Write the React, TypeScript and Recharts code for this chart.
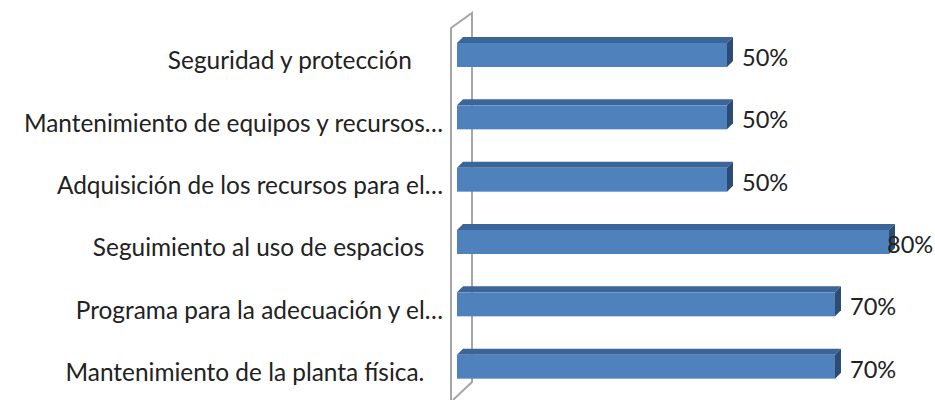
import React from "react";
import { BarChart, Bar, XAxis, YAxis, LabelList, Customized } from "recharts";

const NB = "\u00A0";

const categories = [
  "Seguridad y protección" + NB.repeat(5),
  "Mantenimiento de equipos y recursos…",
  "Adquisición de los recursos para el…",
  "Seguimiento al uso de espacios" + NB.repeat(3),
  "Programa para la adecuación y el…",
  "Mantenimiento de la planta física." + NB.repeat(3),
];
const values = [50, 50, 50, 80, 70, 70];

const data = categories.map((name, i) => ({ name, value: values[i] }));

const WIDTH = 935;
const HEIGHT = 400;
const MARGIN = { top: 24, right: 19, bottom: 2, left: 0 };
const AXIS_W = 457;
const DEPTH = 6;
const FONT = "Lato, 'Noto Sans', sans-serif";
const TEXT = "#222222";

const Bar3D = (props: any) => {
  const { x, y, width, height } = props;
  const d = DEPTH;
  return (
    <g>
      <polygon
        points={`${x},${y} ${x + d},${y - d} ${x + width + d},${y - d} ${x + width},${y}`}
        fill="#3B6598"
      />
      <polygon
        points={`${x + width},${y} ${x + width + d},${y - d} ${x + width + d},${y + height - d} ${x + width},${y + height}`}
        fill="#2C4C75"
      />
      <rect x={x} y={y} width={width} height={height} fill="#4F81BD" />
    </g>
  );
};

// side wall of the 3D plot, drawn behind the bars
const Wall = () => {
  const left = MARGIN.left + AXIS_W;
  const front = left - 6;
  const back = left + 15;
  const top = MARGIN.top;
  const bottom = HEIGHT;
  return (
    <g fill="none" stroke="#A6A6A6" strokeWidth={2}>
      <path d={`M${front},${bottom} L${front},${top + 4} L${back},${top - 11} L${back},${bottom - 18} L${front + 2},${bottom}`} />
    </g>
  );
};

const Tick = (props: any) => {
  const { x, y, payload } = props;
  return (
    <text
      x={x}
      y={y + 6}
      dy="0.34em"
      textAnchor="end"
      fontFamily={FONT}
      fontSize={24.4}
      fill={TEXT}
    >
      {payload.value}
    </text>
  );
};

const ValueLabel = (props: any) => {
  const { x, y, width, height, value } = props;
  const text = `${value}%`;
  const tx = Math.min(x + width + 15, WIDTH - 48);
  return (
    <text
      x={tx}
      y={y + height / 2 + 3}
      dy="0.34em"
      fontFamily={FONT}
      fontSize={23.6}
      fill={TEXT}
    >
      {text}
    </text>
  );
};

export default function App() {
  return (
    <div style={{ position: "absolute", left: 0, top: 0, background: "#fff" }}>
      <BarChart
        width={WIDTH}
        height={HEIGHT}
        data={data}
        layout="vertical"
        margin={MARGIN}
      >
        <Customized component={Wall} />
        <XAxis type="number" domain={[0, 85]} hide />
        <YAxis
          type="category"
          dataKey="name"
          width={AXIS_W}
          axisLine={false}
          tickLine={false}
          tickSize={0}
          tickMargin={14}
          interval={0}
          tick={<Tick />}
        />
        <Bar
          dataKey="value"
          barSize={24}
          shape={<Bar3D />}
          isAnimationActive={false}
        >
          <LabelList dataKey="value" content={<ValueLabel />} />
        </Bar>
      </BarChart>
    </div>
  );
}
